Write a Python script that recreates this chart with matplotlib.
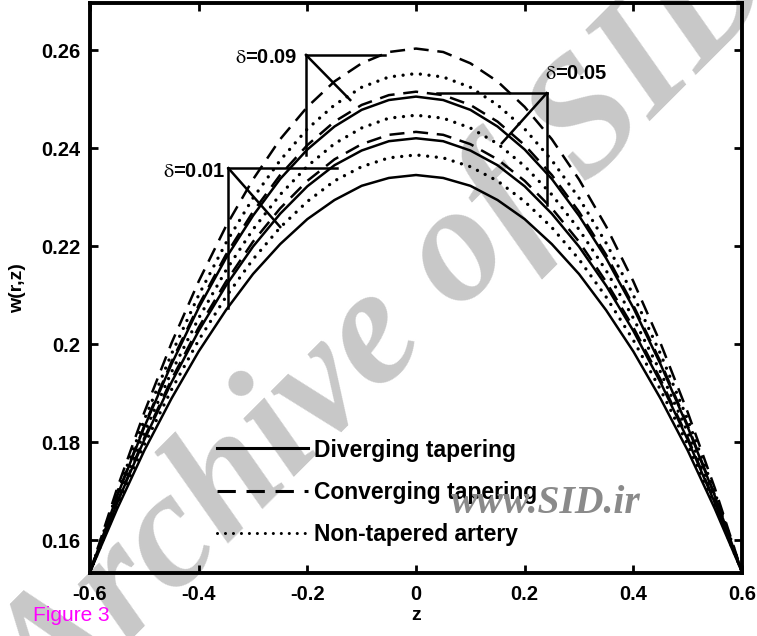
import numpy as np
import matplotlib
matplotlib.use("Agg")
import matplotlib.pyplot as plt

plt.rcParams['font.family'] = ['Liberation Sans', 'DejaVu Sans']
plt.rcParams['mathtext.fontset'] = 'stix'

# axial positions
z = [-0.6, -0.55, -0.5, -0.45, -0.4, -0.35, -0.3, -0.25, -0.2, -0.15, -0.1, -0.05, 0.0,
     0.05, 0.1, 0.15, 0.2, 0.25, 0.3, 0.35, 0.4, 0.45, 0.5, 0.55, 0.6]

# velocity w(r,z), one list per taper type and delta
div_001 = [0.1535, 0.1664, 0.1783, 0.1889, 0.1985, 0.2069, 0.2143, 0.2204, 0.2255, 0.2294, 0.2323, 0.2339, 0.2345,
           0.2339, 0.2323, 0.2294, 0.2255, 0.2204, 0.2143, 0.2069, 0.1985, 0.1889, 0.1783, 0.1664, 0.1535]
non_001 = [0.1535, 0.1671, 0.1795, 0.1907, 0.2008, 0.2096, 0.2173, 0.2238, 0.2291, 0.2333, 0.2362, 0.2380, 0.2386,
           0.2380, 0.2362, 0.2333, 0.2291, 0.2238, 0.2173, 0.2096, 0.2008, 0.1907, 0.1795, 0.1671, 0.1535]
con_001 = [0.1535, 0.1678, 0.1809, 0.1928, 0.2034, 0.2127, 0.2209, 0.2277, 0.2333, 0.2377, 0.2408, 0.2427, 0.2433,
           0.2427, 0.2408, 0.2377, 0.2333, 0.2277, 0.2209, 0.2127, 0.2034, 0.1928, 0.1809, 0.1678, 0.1535]
div_005 = [0.1535, 0.1676, 0.1805, 0.1922, 0.2027, 0.2119, 0.2199, 0.2266, 0.2322, 0.2365, 0.2395, 0.2414, 0.2420,
           0.2414, 0.2395, 0.2365, 0.2322, 0.2266, 0.2199, 0.2119, 0.2027, 0.1922, 0.1805, 0.1676, 0.1535]
non_005 = [0.1535, 0.1684, 0.1820, 0.1943, 0.2053, 0.2150, 0.2234, 0.2305, 0.2363, 0.2409, 0.2441, 0.2461, 0.2467,
           0.2461, 0.2441, 0.2409, 0.2363, 0.2305, 0.2234, 0.2150, 0.2053, 0.1943, 0.1820, 0.1684, 0.1535]
con_005 = [0.1535, 0.1692, 0.1834, 0.1964, 0.2079, 0.2182, 0.2270, 0.2345, 0.2406, 0.2454, 0.2488, 0.2508, 0.2515,
           0.2508, 0.2488, 0.2454, 0.2406, 0.2345, 0.2270, 0.2182, 0.2079, 0.1964, 0.1834, 0.1692, 0.1535]
div_009 = [0.1535, 0.1690, 0.1831, 0.1959, 0.2074, 0.2175, 0.2262, 0.2337, 0.2397, 0.2444, 0.2478, 0.2498, 0.2505,
           0.2498, 0.2478, 0.2444, 0.2397, 0.2337, 0.2262, 0.2175, 0.2074, 0.1959, 0.1831, 0.1690, 0.1535]
non_009 = [0.1535, 0.1697, 0.1846, 0.1980, 0.2100, 0.2206, 0.2298, 0.2375, 0.2439, 0.2488, 0.2524, 0.2545, 0.2552,
           0.2545, 0.2524, 0.2488, 0.2439, 0.2375, 0.2298, 0.2206, 0.2100, 0.1980, 0.1846, 0.1697, 0.1535]
con_009 = [0.1535, 0.1706, 0.1861, 0.2002, 0.2128, 0.2240, 0.2336, 0.2418, 0.2484, 0.2536, 0.2573, 0.2596, 0.2603,
           0.2596, 0.2573, 0.2536, 0.2484, 0.2418, 0.2336, 0.2240, 0.2128, 0.2002, 0.1861, 0.1706, 0.1535]

xticks = [-0.6, -0.4, -0.2, 0, 0.2, 0.4, 0.6]
xticklabels = ['-0.6', '-0.4', '-0.2', '0', '0.2', '0.4', '0.6']
yticks = [0.16, 0.18, 0.2, 0.22, 0.24, 0.26]
yticklabels = ['0.16', '0.18', '0.2', '0.22', '0.24', '0.26']

fig = plt.figure(figsize=(7.57, 6.36), dpi=100)
ax = fig.add_axes([0.1189, 0.0991, 0.8613, 0.8962])
ax.set_facecolor('none')

# watermark behind everything
fig.text(0.515, 0.478, 'Archive of SID', rotation=45, ha='center', va='center',
         fontsize=120, color='#c8c8c8', family='Liberation Serif',
         style='italic', weight='bold', zorder=-1)

solid = dict(color='black', lw=1.8, ls='-')
dashed = dict(color='black', lw=1.8, ls=(0, (6, 3.5)))
dotted = dict(color='black', lw=2.4, ls=(0, (0.01, 2.6)), dash_capstyle='round')

ax.plot(z, div_001, **solid, label='Diverging tapering')
ax.plot(z, con_001, **dashed, label='Converging tapering')
ax.plot(z, non_001, **dotted, label='Non-tapered artery')
ax.plot(z, div_005, **solid)
ax.plot(z, con_005, **dashed)
ax.plot(z, non_005, **dotted)
ax.plot(z, div_009, **solid)
ax.plot(z, con_009, **dashed)
ax.plot(z, non_009, **dotted)

# delta markers
lk = dict(color='black', lw=1.8)
ax.plot([-0.2025, -0.057], [0.2590, 0.2590], **lk)
ax.plot([-0.2025, -0.2025], [0.2590, 0.2386], **lk)
ax.plot([-0.2025, -0.121], [0.2590, 0.2498], **lk)
ax.plot([-0.3454, -0.146], [0.2359, 0.2359], **lk)
ax.plot([-0.3454, -0.3454], [0.2359, 0.2073], **lk)
ax.plot([-0.3454, -0.250], [0.2359, 0.2239], **lk)
ax.plot([0.2406, 0.038], [0.2512, 0.2512], **lk)
ax.plot([0.2406, 0.2406], [0.2512, 0.2284], **lk)
ax.plot([0.2406, 0.158], [0.2512, 0.2410], **lk)

tk = dict(fontsize=14.5, weight='bold', va='center')
ax.text(-0.218, 0.2585, r'$\mathrm{\delta}$=0.09', ha='right', **tk)
ax.text(-0.350, 0.2353, r'$\mathrm{\delta}$=0.01', ha='right', **tk)
ax.text(0.238, 0.2553, r'$\mathrm{\delta}$=0.05', ha='left', **tk)

ax.set_xlim(-0.6, 0.6)
ax.set_ylim(0.1533, 0.2696)
ax.set_xticks(xticks)
ax.set_xticklabels(xticklabels)
ax.set_yticks(yticks)
ax.set_yticklabels(yticklabels)
ax.tick_params(direction='in', length=6, width=2, top=True, right=True,
               labelsize=14.5, pad=7)
ax.tick_params(axis='x', pad=9)
for lab in ax.get_xticklabels() + ax.get_yticklabels():
    lab.set_fontweight('bold')
for sp in ax.spines.values():
    sp.set_linewidth(2.8)

ax.set_xlabel('z', fontsize=14, weight='bold', labelpad=2)
ax.set_ylabel('w(r,z)', fontsize=14, weight='bold', labelpad=11)

leg = ax.legend(loc='upper left', bbox_to_anchor=(0.18, 0.252), frameon=False,
                fontsize=16.5, handlelength=4.0, handletextpad=0.25,
                labelspacing=0.85, borderaxespad=0)
for t in leg.get_texts():
    t.set_fontweight('bold')
for h in leg.get_lines():
    h.set_linewidth(2.2)

fig.text(0.7213, 0.209, 'www.SID.ir', ha='center', va='center', fontsize=28.5,
         color='#8a8a8a', family='Liberation Serif', style='italic', weight='bold')
fig.text(0.0436, 0.033, 'Figure 3', ha='left', va='center', fontsize=15,
         color='#ff00ff')

fig.savefig('out.png', dpi=100)
